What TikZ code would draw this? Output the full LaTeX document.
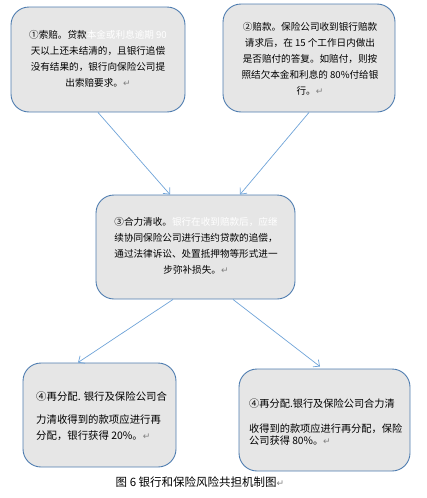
\documentclass[tikz,border=0pt]{standalone}
\usepackage{fontspec}
\setmainfont{Noto Sans CJK SC}
\newfontfamily\djv{DejaVu Sans}
\usetikzlibrary{calc,arrows.meta}
\definecolor{boxfill}{HTML}{E6E6E6}
\definecolor{boxline}{HTML}{4F7DB0}
\definecolor{arrcol}{HTML}{6FA3D8}
\newcommand{\ret}{{\djv\color{gray}\small ↵}}
\tikzset{
  box/.style={draw=boxline, line width=0.9pt, fill=boxfill, rounded corners=18pt, inner sep=0pt},
  txt/.style={font=\fontsize{9.6}{16}\selectfont, align=center, inner sep=0pt},
  arr/.style={draw=arrcol, line width=0.7pt, -{Straight Barb[length=5pt,width=9pt]}}
}
\begin{document}
\begin{tikzpicture}[x=1pt,y=-1pt]
\useasboundingbox (0,0) rectangle (426,498);
\node[box, minimum width=174pt, minimum height=105pt] (b1) at (98,59.5) {};
\node[box, minimum width=172pt, minimum height=108pt] (b2) at (309,58) {};
\node[box, minimum width=199pt, minimum height=104pt] (b3) at (195.5,247) {};
\node[box, minimum width=153pt, minimum height=104pt] (b4) at (99.5,415) {};
\node[box, minimum width=171pt, minimum height=102pt] (b5) at (324.5,420) {};

\node[txt] (t1) at (98,59) {①索赔。贷款{\color{white}本金或利息逾期 90}\\天以上还未结清的，且银行追偿\\没有结果的，银行向保险公司提\\出索赔要求。\ret};
\node[txt] (t2) at (310,59) {②赔款。保险公司收到银行赔款\\请求后，在 15 个工作日内做出\\是否赔付的答复。如赔付，则按\\照结欠本金和利息的 80\%付给银\\行。\ret};
\node[txt] (t3) at (196,246) {③合力清收。{\color{white}银行在收到赔款后，应继}\\续协同保险公司进行违约贷款的追偿，\\通过法律诉讼、处置抵押物等形式进一\\步弥补损失。\ret};
\node[txt, align=left, font=\fontsize{10.4}{16}\selectfont, anchor=north west] (t4) at (36,391) {④再分配. 银行及保险公司合\\[7pt]力清收得到的款项应进行再\\分配，银行获得 20\%。\ret};
\node[txt, align=left, font=\fontsize{10.2}{12}\selectfont, anchor=north west] (t5) at (249,399) {④再分配.银行及保险公司合力清\\[13pt]收得到的款项应进行再分配，保险\\公司获得 80\%。\ret};

\node[inner sep=0pt, font=\fontsize{11.5}{14}\selectfont] (cap) at (200,482) {图 6 银行和保险风险共担机制图\ret};

\draw[arr] (b1.south) -- ($(b3.north)+(-25.5,0)$);
\draw[arr] (b2.south) -- ($(b3.north)+(44.5,0)$);
\draw[arr] ($(b3.south)+(-22.5,0)$) -- ($(b4.north)+(-21.5,0)$);
\draw[arr] ($(b3.south)+(37.5,0)$) -- ($(b5.north)+(-4.5,-2)$);
\end{tikzpicture}
\end{document}
